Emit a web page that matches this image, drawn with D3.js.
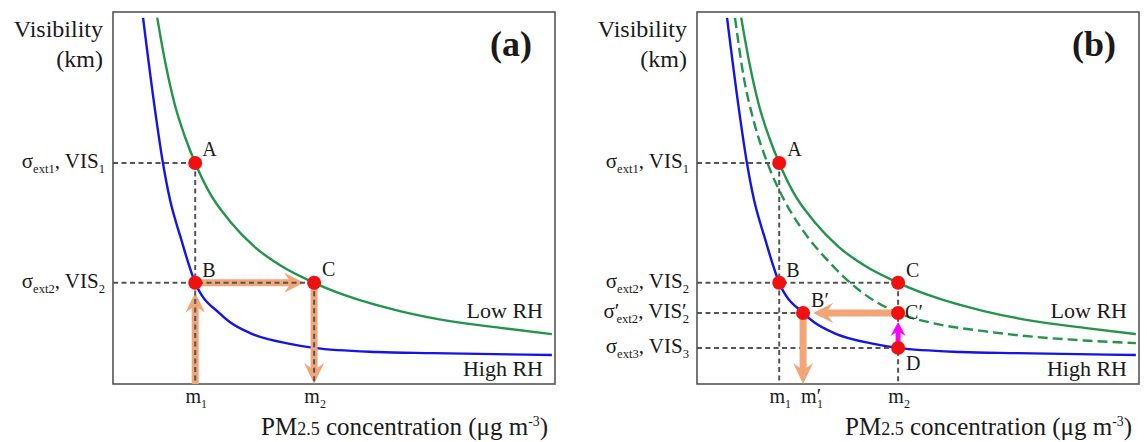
<!DOCTYPE html>
<html>
<head>
<meta charset="utf-8">
<script src="https://cdn.jsdelivr.net/npm/d3@7"></script>
<style>
body { margin: 0; background: #fff; }
text { font-family: "Liberation Serif", "Times New Roman", serif; fill: #1a1a1a; }
</style>
</head>
<body>
<div id="chart"></div>
<script>
// curves (arbitrary units, 0-100 on both axes)
var highRH = [[6.8,98.4],[9.5,73.7],[11.3,59.4],[12.9,49.5],[15.2,39.8],[18.6,27.2],[24.0,19.1],[26.5,16.6],[31.0,13.7],[40.0,10.8],[45.5,9.7],[59.7,8.6],[72.4,8.3],[99.3,7.8]];
var lowRH = [[10.0,98.5],[11.8,86.6],[14.0,75.0],[16.3,66.4],[18.6,59.4],[21.9,51.3],[26.5,43.7],[32.1,36.8],[37.8,31.9],[45.5,27.2],[53.6,23.4],[64.9,19.6],[76.2,16.9],[87.6,15.1],[99.3,13.4]];
var lowRHShifted = [[8.6,98.4],[10.6,82.3],[12.9,70.4],[16.1,58.9],[19.7,49.5],[24.2,40.9],[29.9,32.8],[36.7,25.2],[45.5,19.1],[53.6,16.3],[64.9,14.2],[76.2,12.7],[87.6,11.7],[99.3,11.0]];

// concentrations and visibility levels
var m1 = 18.6, m1p = 24.0, m2 = 45.5;
var vis1 = 59.4, vis2 = 27.2, vis2p = 19.1, vis3 = 9.7;

var pointsA = [{n:"A", x:m1, y:vis1, dx:7, dy:-7}, {n:"B", x:m1, y:vis2, dx:7, dy:-6}, {n:"C", x:m2, y:vis2, dx:8, dy:-7}];
var pointsB = [{n:"A", x:m1, y:vis1, dx:8, dy:-7}, {n:"B", x:m1, y:vis2, dx:7, dy:-6}, {n:"C", x:m2, y:vis2, dx:8, dy:-6},
               {n:"B\u2032", x:m1p, y:vis2p, dx:8, dy:-6}, {n:"C\u2032", x:m2, y:vis2p, dx:7, dy:6}, {n:"D", x:m2, y:vis3, dx:8, dy:22}];

var W = 1147, H = 442;
var boxW = 442, boxTop = 12, boxBottom = 384;
var blue = "#1414e6", green = "#22954a", orange = "#f2a577", grey = "#555";

var svg = d3.select("#chart").append("svg").attr("width", W).attr("height", H);
svg.append("rect").attr("width", W).attr("height", H).attr("fill", "#fff");

function arrow(g, x1, y1, x2, y2, color, lw, hl, hw) {
  var dx = x2 - x1, dy = y2 - y1, len = Math.sqrt(dx*dx + dy*dy);
  var ux = dx/len, uy = dy/len;
  g.append("line").attr("x1", x1).attr("y1", y1)
    .attr("x2", x2 - ux*hl*0.6).attr("y2", y2 - uy*hl*0.6)
    .attr("stroke", color).attr("stroke-width", lw);
  var ang = Math.atan2(dy, dx) * 180 / Math.PI;
  g.append("path")
    .attr("d", "M0,0L" + (-hl) + "," + (-hw) + "L" + (-hl*0.65) + ",0L" + (-hl) + "," + hw + "Z")
    .attr("transform", "translate(" + x2 + "," + y2 + ") rotate(" + ang + ")")
    .attr("fill", color);
}

// label with subscripts: parts = [[text, kind, dx]]
function richText(g, x, y, parts, size, anchor) {
  var t = g.append("text").attr("x", x).attr("y", y).attr("text-anchor", anchor)
    .style("font-size", size + "px");
  var shift = 0;
  parts.forEach(function(p) {
    var ts = t.append("tspan").text(p[0]);
    if (p[1] == "s") {
      ts.style("font-size", (size*0.6) + "px").attr("dy", 5 - shift); shift = 5;
      if (p[2]) ts.attr("dx", p[2]);
    } else if (p[1] == "sup") {
      ts.style("font-size", (size*0.55) + "px").attr("dy", -9 - shift); shift = -9;
    } else if (p[1] == "small") {
      ts.style("font-size", (size*0.72) + "px").attr("dy", -shift); shift = 0;
    } else {
      ts.attr("dy", -shift); shift = 0;
    }
  });
  return t;
}

function panel(left, tag, b) {
  var x = d3.scaleLinear().domain([0, 100]).range([left, left + boxW]);
  var y = d3.scaleLinear().domain([0, 100]).range([boxBottom, boxTop]);
  var g = svg.append("g");
  var line = d3.line().x(function(d) { return x(d[0]); }).y(function(d) { return y(d[1]); })
    .curve(d3.curveMonotoneX);

  g.append("rect").attr("x", left).attr("y", boxTop).attr("width", boxW).attr("height", boxBottom - boxTop)
    .attr("fill", "none").attr("stroke", grey).attr("stroke-width", 1.6);

  g.append("path").datum(highRH).attr("d", line).attr("fill", "none")
    .attr("stroke", blue).attr("stroke-width", 2.4);
  g.append("path").datum(lowRH).attr("d", line).attr("fill", "none")
    .attr("stroke", green).attr("stroke-width", 2.4);
  if (b) {
    g.append("path").datum(lowRHShifted).attr("d", line).attr("fill", "none")
      .attr("stroke", green).attr("stroke-width", 2.4).attr("stroke-dasharray", "10,5");
  }

  var dashes, pts, r = 7;
  if (!b) {
    dashes = [[0, vis1, m1, vis1], [0, vis2, m2, vis2], [m1, vis1, m1, 0], [m2, vis2, m2, 0]];
    pts = pointsA;
  } else {
    dashes = [[0, vis1, m1, vis1], [0, vis2, m2, vis2], [0, vis2p, m1p, vis2p], [0, vis3, m2, vis3],
              [m1, vis1, m1, 0], [m2, vis2, m2, 0]];
    pts = pointsB;
  }

  var ar = g.append("g"), dg = g.append("g");
  if (b) ar.raise();
  dashes.forEach(function(d) {
    dg.append("line").attr("x1", x(d[0])).attr("y1", y(d[1])).attr("x2", x(d[2])).attr("y2", y(d[3]))
      .attr("stroke", grey).attr("stroke-width", 2).attr("stroke-dasharray", "5,3.5");
  });

  if (!b) {
    arrow(ar, x(m1), y(0), x(m1), y(vis2) + r + 3, orange, 7, 20, 10);
    arrow(ar, x(m1), y(vis2), x(m2) - r - 3, y(vis2), orange, 7, 20, 10);
    arrow(ar, x(m2), y(vis2), x(m2), y(0), orange, 7, 21, 10);
  } else {
    arrow(ar, x(m2), y(vis2p), x(m1p) + r + 3, y(vis2p), orange, 7, 20, 10);
    arrow(ar, x(m1p), y(vis2p), x(m1p), y(0), orange, 7, 21, 10);
    arrow(ar, x(m2), y(vis3), x(m2), y(vis2p) + r + 2, "#ff00ff", 5, 14, 7.5);
  }

  g.selectAll(".dot").data(pts).enter().append("circle")
    .attr("cx", function(d) { return x(d.x); }).attr("cy", function(d) { return y(d.y); })
    .attr("r", r).attr("fill", "#f01010");
  g.selectAll(".lab").data(pts).enter().append("text")
    .attr("x", function(d) { return x(d.x) + d.dx; }).attr("y", function(d) { return y(d.y) + d.dy; })
    .style("font-size", "20px").text(function(d) { return d.n; });

  // y labels
  var yl = left - 8;
  richText(g, yl, y(vis1) + 5, [["\u03c3","n"],["ext1","s"],[", VIS","n"],["1","s"]], 21, "end");
  richText(g, yl, y(vis2) + 5, [["\u03c3","n"],["ext2","s"],[", VIS","n"],["2","s"]], 21, "end");
  if (b) {
    richText(g, yl, y(vis2p) + 5, [["\u03c3\u2032","n"],["ext2","s",-3],[", VIS\u2032","n"],["2","s",-4]], 21, "end");
    richText(g, yl, y(vis3) + 5, [["\u03c3","n"],["ext3","s"],[", VIS","n"],["3","s"]], 21, "end");
  }

  // x tick labels
  richText(g, x(m1) + 1, 403, [["m","n"],["1","s"]], 20, "middle");
  richText(g, x(m2) + 1, 403, [["m","n"],["2","s"]], 20, "middle");
  if (b) richText(g, x(m1p) + 9, 403, [["m\u2032","n"],["1","s",-4]], 20, "middle");

  g.append("text").attr("x", yl - 2).attr("y", 37).attr("text-anchor", "end")
    .style("font-size", "24px").text("Visibility");
  g.append("text").attr("x", yl - 2).attr("y", 67).attr("text-anchor", "end")
    .style("font-size", "24px").text("(km)");

  richText(g, left + boxW - 7, 435, [["PM","n"],["2.5","small"],[" concentration (\u03bcg m","n"],["-3","sup"],[")","n"]], 25, "end");

  g.append("text").attr("x", left + boxW - 12).attr("y", 318).attr("text-anchor", "end")
    .style("font-size", "22px").text("Low RH");
  g.append("text").attr("x", left + boxW - 12).attr("y", 376).attr("text-anchor", "end")
    .style("font-size", "22px").text("High RH");

  g.append("text").attr("x", left + boxW - 23).attr("y", 56).attr("text-anchor", "end")
    .style("font-size", "36px").style("font-weight", "bold").text("(" + tag + ")");
}

panel(113, "a", false);
panel(697, "b", true);
</script>
</body>
</html>
